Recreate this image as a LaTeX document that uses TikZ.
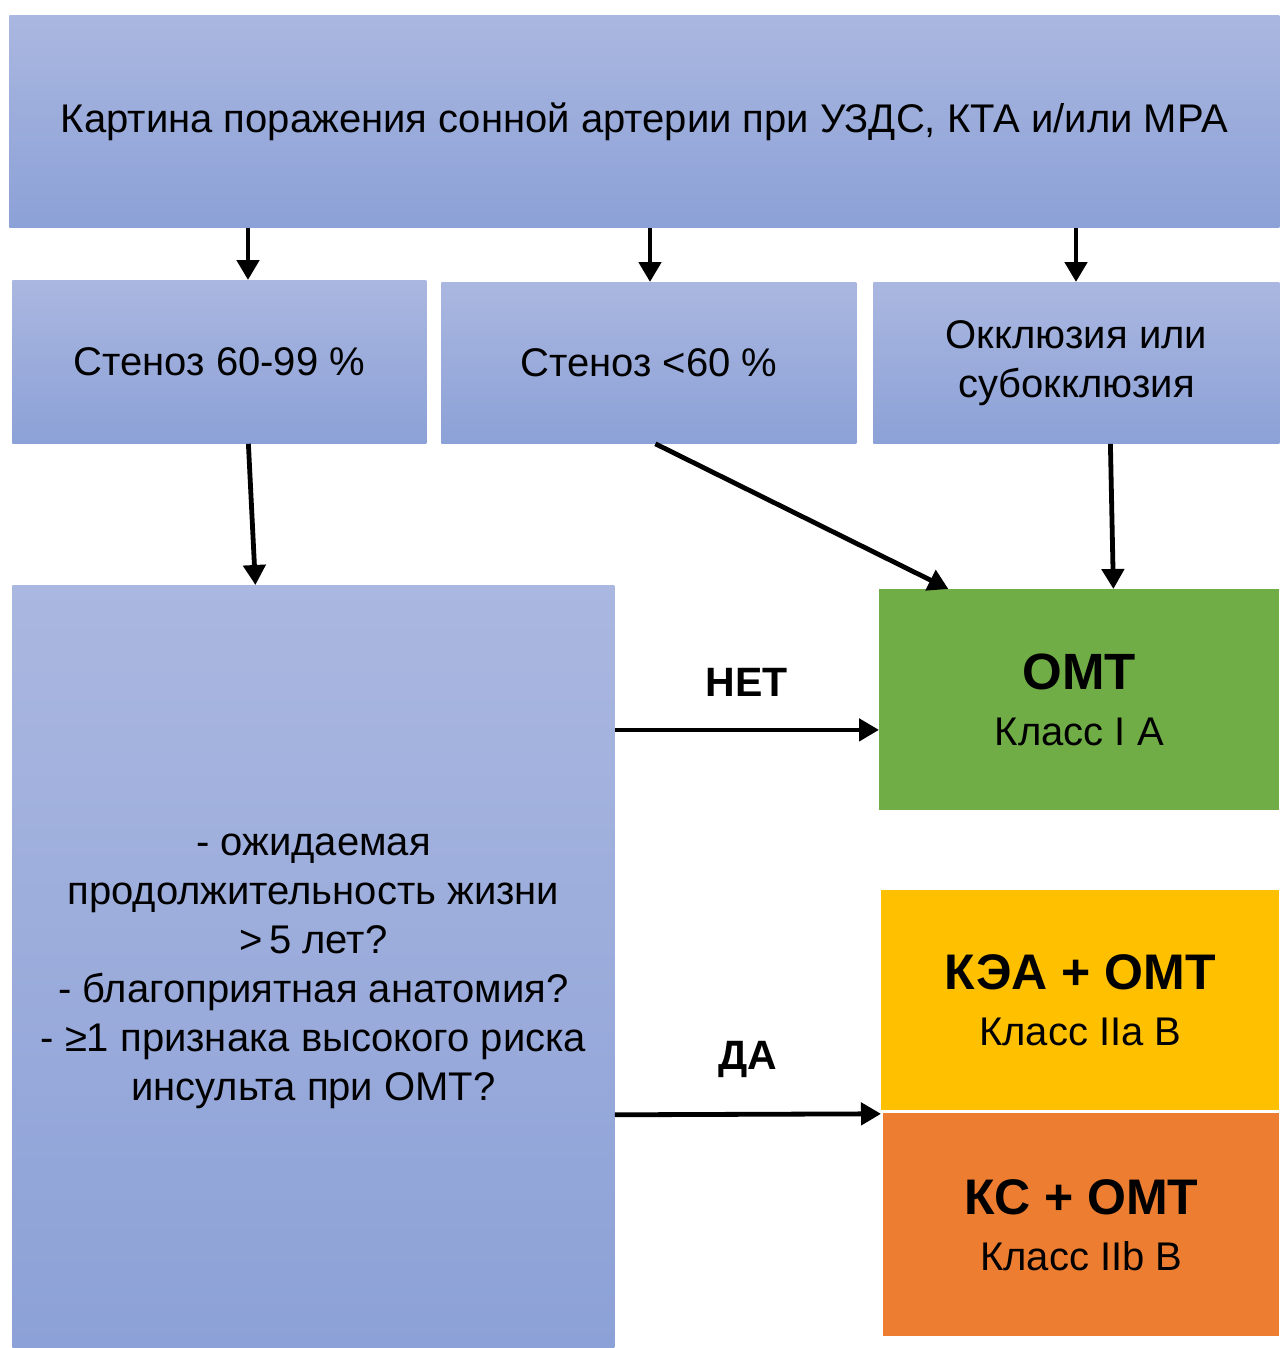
\documentclass[tikz,border=0pt]{standalone}
\usepackage{fontspec}
\setmainfont{Liberation Sans}
\usetikzlibrary{arrows.meta}

\definecolor{blueTop}{HTML}{AAB7E0}
\definecolor{blueBot}{HTML}{8CA1D7}
\definecolor{omtGreen}{HTML}{70AD47}
\definecolor{keaYellow}{HTML}{FFC000}
\definecolor{ksOrange}{HTML}{ED7D31}

\tikzset{
  bluebox/.style={anchor=north west, top color=blueTop, bottom color=blueBot,
    align=center, font=\fontsize{20}{24.5}\selectfont},
  treatbox/.style={anchor=north west, align=center,
    font=\fontsize{20}{28}\selectfont},
  arr/.style={line width=2.4pt, -{Triangle[width=11pt,length=10pt]}},
  lbl/.style={font=\bfseries\fontsize{20.5}{24}\selectfont}
}

\begin{document}
\begin{tikzpicture}[x=0.5pt,y=-0.5pt]
		\useasboundingbox (0,0) rectangle (1279,1348);
		\node[bluebox, minimum width=635pt, minimum height=106pt] (top) at (9,15)
			{Картина поражения сонной артерии при УЗДС, КТА и/или МРА};
		\node[bluebox, minimum width=207pt, minimum height=81.5pt] (s1) at (12,280)
			{Стеноз 60-99 \%};
		\node[bluebox, minimum width=207.5pt, minimum height=80.5pt] (s2) at (441,282)
			{Стеноз <60 \%};
		\node[bluebox, minimum width=203pt, minimum height=80.5pt] (s3) at (873,282)
			{Окклюзия или\\субокклюзия};
		\node[bluebox, minimum width=301pt, minimum height=381.5pt, text depth=-10pt] (q) at (12,585)
			{- ожидаемая\\продолжительность жизни\\>\,5 лет?\\- благоприятная анатомия?\\- ≥1 признака высокого риска\\инсульта при ОМТ?};
		\node[treatbox, fill=omtGreen, minimum width=200pt, minimum height=110.5pt] (omt) at (879,589)
			{{\bfseries\fontsize{25.5}{28}\selectfont ОМТ}\\Класс I A};
		\node[treatbox, fill=keaYellow, minimum width=199pt, minimum height=110pt] (kea) at (881,890)
			{{\bfseries\fontsize{25}{28}\selectfont КЭА + ОМТ}\\Класс IIa B};
		\node[treatbox, fill=ksOrange, minimum width=198pt, minimum height=111.5pt] (ks) at (883,1113)
			{{\bfseries\fontsize{25}{28}\selectfont КС + ОМТ}\\Класс IIb B};

		\draw[arr] (248,0 |- top.south) -- (248,0 |- s1.north);
		\draw[arr] (650,0 |- top.south) -- (650,0 |- s2.north);
		\draw[arr] (1076,0 |- top.south) -- (1076,0 |- s3.north);
		\draw[arr] ([xshift=14.5pt]s1.south) -- ([xshift=-29pt]q.north);
		\draw[arr] ([xshift=3.25pt]s2.south) -- ([xshift=-65.5pt]omt.north);
		\draw[arr] ([xshift=17pt]s3.south) -- ([xshift=17pt]omt.north);
		\draw[arr] ([yshift=-15pt]omt.west -| q.east) -- node[lbl, above=12pt] (no) {НЕТ} ([yshift=-15pt]omt.west);
		\draw[arr] ([yshift=-2pt]q.east |- kea.south west) -- node[lbl, above=14pt] (yes) {ДА} ([yshift=-1.5pt]kea.south west);
	\end{tikzpicture}
\end{document}
